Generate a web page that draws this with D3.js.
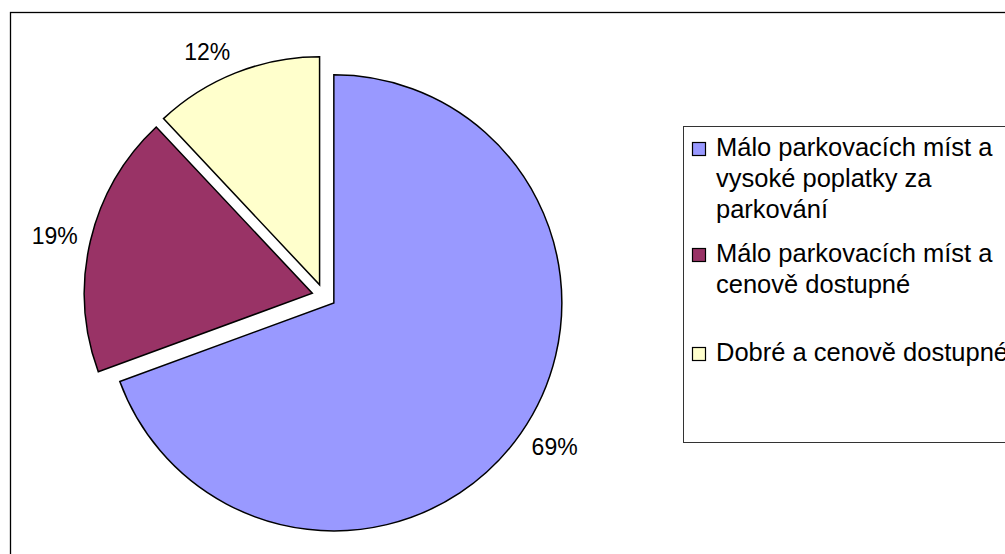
<!DOCTYPE html>
<html>
<head>
<meta charset="utf-8">
<script src="https://cdn.jsdelivr.net/npm/d3@7"></script>
<style>
  body { margin: 0; background: #fff; }
  text { font-family: "Liberation Sans", Arial, sans-serif; fill: #000; }
</style>
</head>
<body>
<script>
// Chart data
const categories = [
  ["Málo parkovacích míst a", "vysoké poplatky za", "parkování"],
  ["Málo parkovacích míst a", "cenově dostupné"],
  ["Dobré a cenově dostupné"]
];
const shares = [69.4, 18.6, 12.0];
const colors = ["#9999ff", "#993366", "#ffffcc"];

// SVG size
const w = 1005;
const h = 554;

const svg = d3.select("body")
  .append("svg")
  .attr("width", w)
  .attr("height", h);

// Outer chart border (runs off the right and bottom edge)
svg.append("rect")
  .attr("x", 10.5)
  .attr("y", 12.5)
  .attr("width", 1200)
  .attr("height", 700)
  .attr("fill", "none")
  .attr("stroke", "#000")
  .attr("stroke-width", 1.3);

// Pie geometry
const cx = 324;
const cy = 296;
const radius = 228;
const explode = 12;
const labelR = 252;

const pie = d3.pie().sort(null).value(d => d);
const arc = d3.arc().innerRadius(0).outerRadius(radius);
const slices = pie(shares);

const total = d3.sum(shares);

const g = svg.append("g")
  .attr("transform", `translate(${cx},${cy})`);

// Slices, each pushed out along its mid angle
g.selectAll(".slice")
  .data(slices)
  .enter()
  .append("path")
  .attr("class", "slice")
  .attr("d", arc)
  .attr("transform", function(d) {
    const a = (d.startAngle + d.endAngle) / 2;
    return `translate(${explode * Math.sin(a)},${-explode * Math.cos(a)})`;
  })
  .attr("fill", (d, i) => colors[i])
  .attr("stroke", "#000")
  .attr("stroke-width", 1.5)
  .attr("stroke-linejoin", "miter");

// Percentage labels outside each slice
g.selectAll(".pct")
  .data(slices)
  .enter()
  .append("text")
  .attr("class", "pct")
  .attr("x", function(d) {
    const a = (d.startAngle + d.endAngle) / 2;
    const dx = Math.sin(a);
    return labelR * dx + (dx < 0 ? -24 : 24);
  })
  .attr("y", function(d) {
    const a = (d.startAngle + d.endAngle) / 2;
    const dy = -Math.cos(a);
    return labelR * dy + 11 * dy;
  })
  .attr("dy", "0.36em")
  .attr("text-anchor", "middle")
  .style("font-size", "23px")
  .text(d => Math.round(d.value / total * 100) + "%");

// Legend box
svg.append("rect")
  .attr("x", 683.5)
  .attr("y", 126.5)
  .attr("width", 400)
  .attr("height", 316)
  .attr("fill", "#fff")
  .attr("stroke", "#333")
  .attr("stroke-width", 1);

const legendBase = [156, 262, 361];
const lineStep = 31;

const legend = svg.selectAll(".legend")
  .data(categories)
  .enter()
  .append("g")
  .attr("class", "legend")
  .attr("transform", (d, i) => `translate(0,${legendBase[i]})`);

legend.append("rect")
  .attr("x", 692.5)
  .attr("y", -13.5)
  .attr("width", 13)
  .attr("height", 13)
  .attr("fill", (d, i) => colors[i])
  .attr("stroke", "#000")
  .attr("stroke-width", 1.2);

legend.append("text")
  .style("font-size", "25.5px")
  .selectAll("tspan")
  .data(d => d)
  .enter()
  .append("tspan")
  .attr("x", 716)
  .attr("y", (d, i) => i * lineStep)
  .text(d => d);
</script>
</body>
</html>
